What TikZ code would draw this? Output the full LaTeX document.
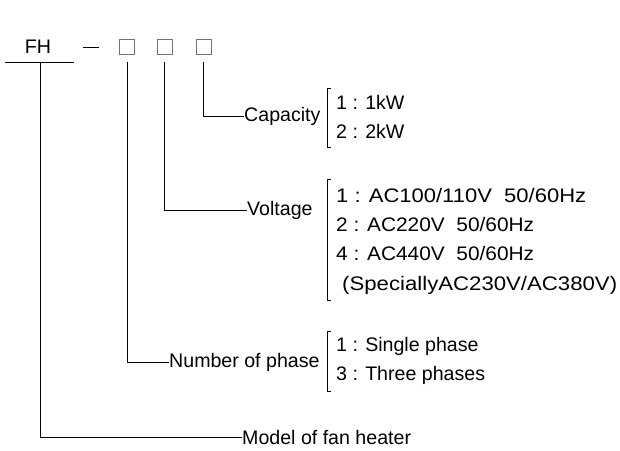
\documentclass[tikz,border=0pt]{standalone}
\usepackage{fontspec}
\usepackage{graphicx}
\setmainfont{Liberation Sans}
\newcommand{\fitw}[2]{\resizebox{#1}{\height}{#2}}
\begin{document}
\begin{tikzpicture}[x=1pt,y=-1pt,
  txt/.style={inner sep=0pt,font=\fontsize{19.6}{22}\selectfont,anchor=base west},
  lbl/.style={inner sep=0pt,font=\fontsize{19.6}{22}\selectfont,anchor=west},
  conn/.style={line width=0.9pt,black},
  digitbox/.style={draw=black!55,line width=1pt,minimum size=15pt,inner sep=0pt},
  brk/.style={line width=0.9pt,black}]
\useasboundingbox (0,0) rectangle (620,450);
% header
\node[inner sep=0pt,font=\fontsize{19.6}{22}\selectfont] (fh) at (38,47) {FH};
\coordinate (ulL) at (5,62);
\coordinate (ulR) at (74,62);
\draw[conn] (ulL) -- (ulR);
\coordinate (dA) at (83,47);
\coordinate (dB) at (99,47);
\draw[conn] (dA) -- (dB);
\node[digitbox] (b1) at (127,46.5) {};
\node[digitbox] (b2) at (165,46.5) {};
\node[digitbox] (b3) at (203.5,46.5) {};
% labels
\node[lbl] (cap) at (244,116) {Capacity};
\node[lbl] (vol) at (247,210) {Voltage};
\node[lbl] (nph) at (169,362) {Number of phase};
\node[lbl] (mod) at (242,437) {Model of fan heater};
% connectors
\coordinate (fhTop) at (40,62);
\coordinate (c3) at (203,62);
\coordinate (c2) at (164,62);
\coordinate (c1) at (127,62);
\draw[conn] (c3) |- (cap.west);
\draw[conn] (c2) |- (vol.west);
\draw[conn] (c1) |- (nph.west);
\draw[conn] (fhTop) |- (mod.west);
% brackets
\coordinate (k1t) at (327,88);  \coordinate (k1b) at (327,147);
\draw[brk] ([xshift=4pt]k1t) -- (k1t) -- (k1b) -- ([xshift=4pt]k1b);
\coordinate (k2t) at (327,179); \coordinate (k2b) at (327,300);
\draw[brk] ([xshift=4pt]k2t) -- (k2t) -- (k2b) -- ([xshift=4pt]k2b);
\coordinate (k3t) at (327,331); \coordinate (k3b) at (327,391);
\draw[brk] ([xshift=4pt]k3t) -- (k3t) -- (k3b) -- ([xshift=4pt]k3b);
% items
\node[txt] (cap1) at (336,109) {1 : 1kW};
\node[txt] (cap2) at (336,138) {2 : 2kW};
\node[txt] (vol1) at (336,202) {\fitw{250pt}{1 : AC100/110V\ \ 50/60Hz}};
\node[txt] (vol2) at (336,231) {\fitw{198pt}{2 : AC220V\ \ 50/60Hz}};
\node[txt] (vol3) at (336,260) {\fitw{198pt}{4 : AC440V\ \ 50/60Hz}};
\node[txt] (vol4) at (342,290) {\fitw{275pt}{(SpeciallyAC230V/AC380V)}};
\node[txt] (nph1) at (336,351) {1 : Single phase};
\node[txt] (nph2) at (336,380) {3 : Three phases};
\end{tikzpicture}
\end{document}
